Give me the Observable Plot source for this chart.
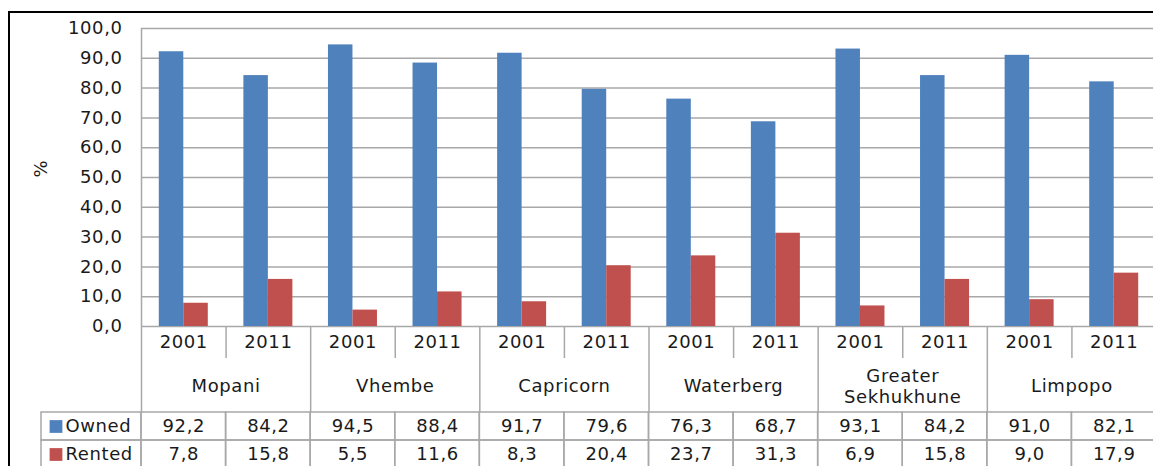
<!DOCTYPE html>
<html><head><meta charset="utf-8">
<script src="https://cdn.jsdelivr.net/npm/d3@7"></script>
<script src="https://cdn.jsdelivr.net/npm/@observablehq/plot@0.6"></script>
<style>
html,body{margin:0;padding:0;background:#fff;overflow:hidden}
#wrap{position:relative;width:1153px;height:466px;overflow:hidden;background:#fff}
#wrap svg{position:absolute;max-width:none !important;}
#border{position:absolute;left:8px;top:11px;width:2000px;height:2000px;border-left:2px solid #000;border-top:2px solid #000;pointer-events:none;z-index:5}
</style></head><body><div id="wrap"><div id="border"></div></div>
<script>
// ---- data ----
const districts = ["Mopani", "Vhembe", "Capricorn", "Waterberg", "Greater\nSekhukhune", "Limpopo"];
const years = ["2001", "2011"];
const seriesNames = ["Owned", "Rented"];
const owned  = [92.2, 84.2, 94.5, 88.4, 91.7, 79.6, 76.3, 68.7, 93.1, 84.2, 91.0, 82.1];
const rented = [7.8, 15.8, 5.5, 11.6, 8.3, 20.4, 23.7, 31.3, 6.9, 15.8, 9.0, 17.9];
const yTicks = [0, 10, 20, 30, 40, 50, 60, 70, 80, 90, 100];
const yLabel = "%";

// ---- derived tables ----
const columns = districts.flatMap(d => years.map(y => ({district: d, year: y, key: d + "|" + y})));
const keys = columns.map(c => c.key);
const rows = columns.flatMap((c, i) => [
  {...c, series: "Owned", value: owned[i]},
  {...c, series: "Rented", value: rented[i]}
]);

// ---- layout / style ----
const W = 1156, ML = 141, MR = 0;
const bw = (W - ML - MR) / keys.length;
const bw2 = (W - ML - MR) / districts.length;
const barW = 24.5;
const outer = (bw - 2 * barW) / 2;
const fmt = v => v.toFixed(1).replace(".", ",");
const grid = "#a8a8a8";
const colors = {Owned: "#4F81BD", Rented: "#C0504D"};
const font = {fontFamily: "'DejaVu Sans', sans-serif", fontSize: "18px", color: "#1a1a1a",
  letterSpacing: "0.6px", background: "transparent", maxWidth: "none"};
const xBand = {type: "band", domain: keys, padding: 0, round: false, axis: null};

const wrap = document.getElementById("wrap");
function place(svg, left, top, z) {
  svg.style.left = left + "px";
  svg.style.top = top + "px";
  svg.style.zIndex = z;
  wrap.appendChild(svg);
}

// ---- bar chart ----
const A = Plot.plot({
  width: W, height: 328, marginTop: 28, marginBottom: 2, marginLeft: ML, marginRight: MR,
  style: {...font, overflow: "visible"},
  x: xBand,
  y: {domain: [0, 100]},
  marks: [
    Plot.gridY(yTicks, {stroke: grid, strokeOpacity: 1, strokeWidth: 1.5}),
    Plot.ruleX([keys[0]], {x: d => d, dx: -bw / 2, stroke: grid, strokeWidth: 1.5}),
    Plot.barY(rows.filter(r => r.series === "Owned"), {x: "key", y: "value", fill: colors.Owned,
      insetLeft: outer, insetRight: bw - outer - barW}),
    Plot.barY(rows.filter(r => r.series === "Rented"), {x: "key", y: "value", fill: colors.Rented,
      insetLeft: bw - outer - barW, insetRight: outer}),
    Plot.axisY(yTicks, {tickSize: 0, tickPadding: 19, tickFormat: fmt, label: null, fontSize: 18}),
    Plot.text([yLabel], {text: d => d, frameAnchor: "left", dx: -100, rotate: -90, fontSize: 18})
  ]
});
place(A, 0, 0, 3);

// ---- year row ----
const B1 = Plot.plot({
  width: W, height: 32, marginTop: 0, marginBottom: 0, marginLeft: ML, marginRight: MR,
  style: font,
  x: xBand,
  marks: [
    Plot.ruleX(keys, {x: d => d, dx: -bw / 2, stroke: grid, strokeWidth: 1.5}),
    Plot.text(columns, {x: "key", text: "year", frameAnchor: "middle", fontSize: 18})
  ]
});
place(B1, 0, 326, 2);

// ---- district row ----
const B2 = Plot.plot({
  width: W, height: 54, marginTop: 0, marginBottom: 0, marginLeft: ML, marginRight: MR,
  style: font,
  x: {type: "band", domain: districts, padding: 0, round: false, axis: null},
  marks: [
    Plot.ruleX(districts, {x: d => d, dx: -bw2 / 2, stroke: grid, strokeWidth: 1.5}),
    Plot.text(districts, {x: d => d, text: d => d, frameAnchor: "middle", fontSize: 18, lineHeight: 1.17})
  ]
});
place(B2, 0, 358, 2);

// ---- data table ----
const B3 = Plot.plot({
  width: W, height: 57, marginTop: 1, marginBottom: 0, marginLeft: ML, marginRight: MR,
  style: font,
  x: xBand,
  y: {type: "band", domain: seriesNames, padding: 0, round: false, axis: null},
  marks: [
    Plot.cell(rows, {x: "key", y: "series", stroke: grid, strokeWidth: 1.5, fill: "none"}),
    Plot.text(rows, {x: "key", y: "series", text: d => fmt(d.value), fontSize: 18})
  ]
});
place(B3, 0, 411, 2);

// ---- legend column ----
const B4 = Plot.plot({
  width: 102, height: 57, marginTop: 1, marginBottom: 0, marginLeft: 1, marginRight: 1,
  style: font,
  color: {type: "identity"},
  y: {type: "band", domain: seriesNames, padding: 0, round: false, axis: null},
  marks: [
    Plot.cell(seriesNames, {y: d => d, stroke: grid, strokeWidth: 1.5, fill: "none"}),
    Plot.dot(seriesNames, {y: d => d, frameAnchor: "left", dx: 14.5, symbol: "square", r: 7.2,
      fill: d => colors[d], stroke: "none"}),
    Plot.text(seriesNames, {y: d => d, text: d => d, frameAnchor: "left", dx: 24, textAnchor: "start", fontSize: 18})
  ]
});
place(B4, 40, 411, 2);
</script></body></html>
